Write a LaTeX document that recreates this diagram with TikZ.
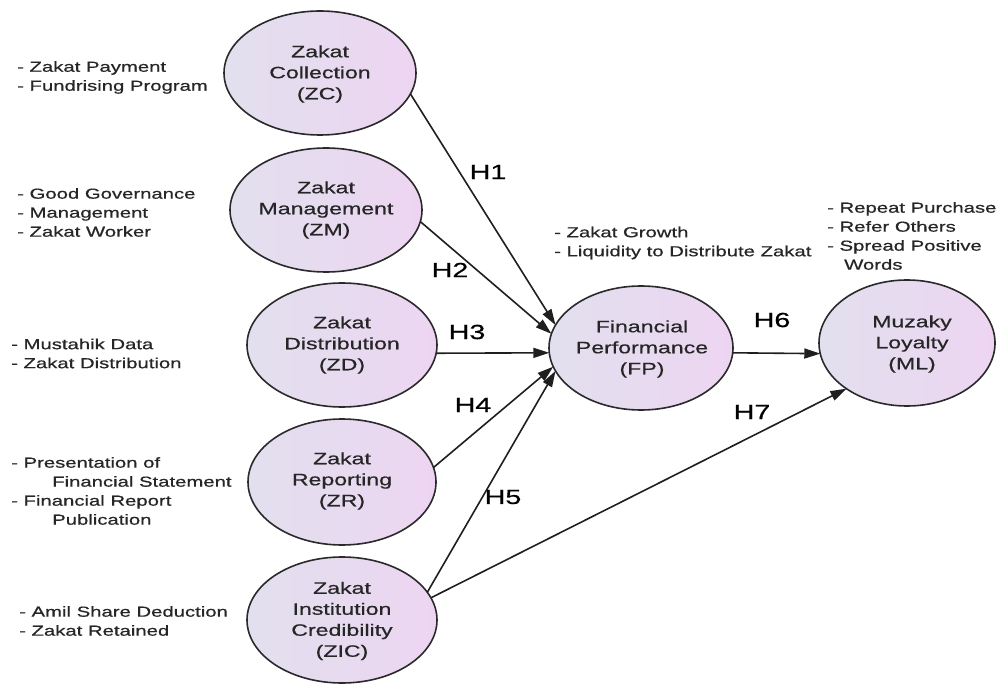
\documentclass[tikz,border=0pt]{standalone}
\usepackage{fontspec}
\setmainfont{Liberation Sans}[FakeStretch=1.4,FakeBold=0.6]
\usetikzlibrary{arrows.meta,shapes.geometric}
\definecolor{ellL}{HTML}{E2E0EE}
\definecolor{ellR}{HTML}{EDD5F1}
\definecolor{edgec}{HTML}{2A2A2A}
\definecolor{txt}{HTML}{262626}
\begin{document}
\begin{tikzpicture}[x=1pt,y=-1pt,
  blob/.style={ellipse, draw=edgec, line width=1.6pt, left color=ellL, right color=ellR, inner sep=0pt, outer sep=0pt},
  btxt/.style={align=center, font=\fontsize{16.5}{21}\selectfont, text=txt, inner sep=0pt},
  side/.style={align=left, anchor=west, font=\fontsize{14.5}{19}\selectfont, text=txt, inner sep=0pt},
  hyp/.style={font=\fontsize{20.5}{24}\selectfont, text=black, inner sep=0pt},
  link/.style={line width=1.6pt, draw=black!88, -{Triangle[length=16pt,width=10pt]}}
]
\path[use as bounding box, fill=white] (0,0) rectangle (998,684);

% ellipses
\node[blob, minimum width=192pt, minimum height=124pt] (ZC)  at (320,73)  {};
\node[blob, minimum width=192pt, minimum height=124pt] (ZM)  at (326,210) {};
\node[blob, minimum width=190pt, minimum height=124pt] (ZD)  at (342,345) {};
\node[blob, minimum width=188pt, minimum height=126pt] (ZR)  at (342,482) {};
\node[blob, minimum width=190pt, minimum height=126pt] (ZIC) at (342,620) {};
\node[blob, minimum width=184pt, minimum height=124pt] (FP)  at (641,348) {};
\node[blob, minimum width=176pt, minimum height=126pt] (ML)  at (907,343) {};

% ellipse texts
\node[btxt] (lZC)  at (320,74)  {Zakat\\Collection\\(ZC)};
\node[btxt] (lZM)  at (326,210) {Zakat\\Management\\(ZM)};
\node[btxt] (lZD)  at (342,345) {Zakat\\Distribution\\(ZD)};
\node[btxt] (lZR)  at (342,481) {Zakat\\Reporting\\(ZR)};
\node[btxt] (lZIC) at (342,621) {Zakat\\Institution\\Credibility\\(ZIC)};
\node[btxt] (lFP)  at (642,349) {Financial\\Performance\\(FP)};
\node[btxt] (lML)  at (912,344) {Muzaky\\Loyalty\\(ML)};

% indicator texts
\node[side] (tZC)  at (17,77.5)  {- Zakat Payment\\- Fundrising Program};
\node[side] (tZM)  at (17,212.5) {- Good Governance\\- Management\\- Zakat Worker};
\node[side] (tZD)  at (11,353.5) {- Mustahik Data\\- Zakat Distribution};
\node[side] (tZR)  at (11,491)   {- Presentation of\\\hspace*{41pt}Financial Statement\\- Financial Report\\\hspace*{41pt}Publication};
\node[side] (tZIC) at (19,621)   {- Amil Share Deduction\\- Zakat Retained};
\node[side] (tFP)  at (554,243)  {- Zakat Growth\\- Liquidity to Distribute Zakat};
\node[side] (tML)  at (827,236)  {- Repeat Purchase\\- Refer Others\\- Spread Positive\\\hspace*{17pt}Words};

% connectors
\draw[link] (ZC.-13) -- (FP.165);
\draw[link] (ZM.-7)  -- (FP.171);
\draw[link] (ZD.-5)  -- (FP.183);
\draw[link] (ZR.9)   -- (FP.192);
\draw[link] (ZIC.18) -- (FP.195);
\draw[link] (FP.-3)  -- (ML.187);
\draw[link] (ZIC.14) -- (ML.217);

% hypothesis labels
\node[hyp] (H1) at (488,172) {H1};
\node[hyp] (H2) at (450,270) {H2};
\node[hyp] (H3) at (467,332) {H3};
\node[hyp] (H4) at (473,405) {H4};
\node[hyp] (H5) at (503,497) {H5};
\node[hyp] (H6) at (772,320) {H6};
\node[hyp] (H7) at (752,412) {H7};
\end{tikzpicture}
\end{document}
